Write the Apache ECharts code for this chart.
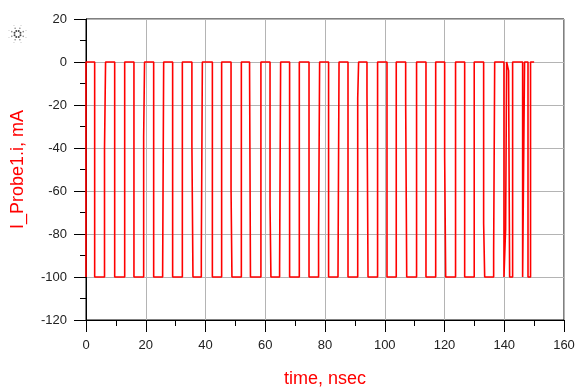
<!DOCTYPE html>
<html><head><meta charset="utf-8">
<script src="https://cdn.jsdelivr.net/npm/echarts@6/dist/echarts.min.js"></script>
<style>html,body{margin:0;padding:0;background:#fff}#c{width:580px;height:388px}</style>
</head><body><div id="c"></div>
<script>
// Change times (nsec) and the current level (mA) held from that time on
const timeNs = [0, 0, 2.9, 6.2, 6.55, 9.6, 12.95, 16.05, 19.3, 19.6, 22.65, 25.65, 26.0, 29.0, 32.25, 35.45, 35.8, 38.6, 38.95, 42.3, 45.4, 48.55, 48.85, 52.0, 54.75, 55.05, 58.55, 61.6, 61.9, 64.8, 65.15, 68.15, 71.4, 74.65, 77.85, 78.2, 81.2, 84.35, 84.7, 87.7, 90.95, 91.25, 94.05, 94.4, 97.6, 100.75, 103.85, 107.0, 107.35, 110.65, 113.8, 117.05, 120.05, 120.4, 123.7, 126.75, 129.95, 133.1, 133.45, 136.45, 136.8, 139.9, 140.45, 140.8, 141.45, 141.8, 142.8, 146.15, 146.8, 147.95, 148.8, 150.0];
const currentMA = [-100, 0, -100, -40, 0, -100, 0, -100, -35, 0, -100, -98, 0, -100, 0, -38.5, -100, -88, 0, -100, 0, -59, -100, 0, -3, -100, 0, -66.5, -100, -95, 0, -100, 0, -100, -80, 0, -100, -99, 0, -100, -17, 0, -14.5, -100, 0, -100, 0, -18, -100, 0, -100, 0, -44, -100, 0, -100, 0, -75, -100, -88, 0, -100, -78, 0, -4, -100, 0, -100, 0, -100, 0, 0];
const xTicks = {min: 0, max: 160, step: 20};
const yTicks = {min: -120, max: 20, step: 20};
const xTitle = 'time, nsec';
const yTitle = 'I_Probe1.i, mA';

const chart = echarts.init(document.getElementById('c'), null, {renderer: 'canvas'});
// build explicit step points: at each change time, go vertically from the previous level to the new one
const pts = [];
timeNs.forEach((t, i) => {
  if (i > 0) pts.push([t, currentMA[i - 1]]);
  pts.push([t, currentMA[i]]);
});

// Agilent-style dotted logo (decoration)
const logo = [];
const cx = 17.5, cy = 34;
for (let k = 0; k < 8; k++) {
  const a = k * Math.PI / 4 + Math.PI / 8;
  [[3.2, 1.0, '#444'], [6.2, 0.8, '#888'], [9.2, 0.6, '#c4c4c4']].forEach(([r, s, c]) => {
    logo.push({type: 'circle', shape: {cx: cx + r * Math.cos(a), cy: cy + r * Math.sin(a), r: s}, style: {fill: c}, silent: true});
  });
}

const axisCommon = {
  axisLine: {show: true, onZero: false, lineStyle: {color: '#000', width: 1}},
  axisTick: {show: true, length: 12, lineStyle: {color: '#000'}},
  minorTick: {show: true, splitNumber: 2, length: 6, lineStyle: {color: '#000'}},
  splitLine: {show: true, lineStyle: {color: '#b4b4b4', width: 1}},
  minorSplitLine: {show: false},
  nameLocation: 'middle',
  nameTextStyle: {color: '#ff0000', fontSize: 18, fontFamily: 'Liberation Sans, Arial, sans-serif'}
};

chart.setOption({
  animation: false,
  backgroundColor: '#fff',
  grid: {left: 86, right: 16, top: 19, bottom: 68, containLabel: false, outerBoundsMode: 'none',
         show: true, borderColor: '#000', borderWidth: 1, backgroundColor: 'transparent'},
  graphic: logo,
  xAxis: Object.assign({}, axisCommon, {
    type: 'value', min: xTicks.min, max: xTicks.max, interval: xTicks.step,
    name: xTitle, nameGap: 50,
    axisLabel: {color: '#222', fontSize: 13, margin: 19, fontFamily: 'Liberation Sans, Arial, sans-serif'}
  }),
  yAxis: Object.assign({}, axisCommon, {
    type: 'value', min: yTicks.min, max: yTicks.max, interval: yTicks.step,
    name: yTitle, nameGap: 59,
    axisLabel: {color: '#222', fontSize: 13, margin: 19, fontFamily: 'Liberation Sans, Arial, sans-serif'}
  }),
  series: [{
    type: 'line', data: pts, showSymbol: false, symbol: 'none',
    lineStyle: {color: '#ff0000', width: 1.6}, silent: true
  }]
});
</script></body></html>
